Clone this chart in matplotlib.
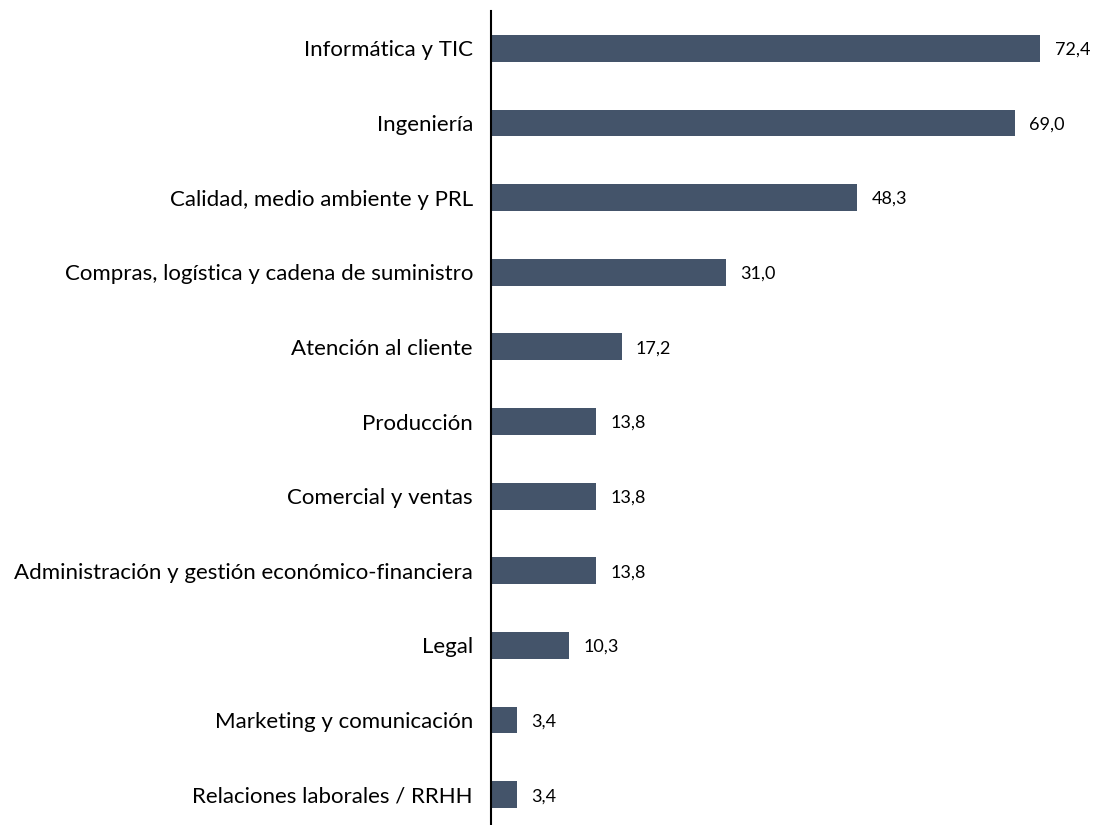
import numpy as np
import matplotlib
matplotlib.rc('font', family=['Lato', 'DejaVu Sans'])
import matplotlib.pyplot as plt

categorias = ['Informática y TIC', 'Ingeniería', 'Calidad, medio ambiente y PRL',
              'Compras, logística y cadena de suministro', 'Atención al cliente',
              'Producción', 'Comercial y ventas',
              'Administración y gestión económico-financiera', 'Legal',
              'Marketing y comunicación', 'Relaciones laborales / RRHH']
valores = [72.4, 69.0, 48.3, 31.0, 17.2, 13.8, 13.8, 13.8, 10.3, 3.4, 3.4]

if __name__ == '__main__':
    fig = plt.figure(figsize=(10.98, 8.25), dpi=100)
    ax = fig.add_axes([491/1098, -7/825, 1 - 491/1098, 1 - 4/825])
    pos = np.arange(len(categorias))
    ax.barh(pos, valores, height=0.36, color='#44546A')
    for p, v in zip(pos, valores):
        ax.text(v + 1.9, p + 0.02, f"{v:.1f}".replace('.', ','), va='center', ha='left',
                fontsize=13, color='#000000')
    ax.set_yticks(pos)
    ax.set_yticklabels(categorias, fontsize=16)
    ax.tick_params(axis='y', length=0, pad=13)
    ax.set_xticks([])
    ax.set_xlim(0, 80)
    ax.set_ylim(len(categorias) - 0.5, -0.5)
    for s in ['top', 'right', 'bottom']:
        ax.spines[s].set_visible(False)
    ax.spines['left'].set_linewidth(1.5)
    fig.savefig('out.png', dpi=100)
    plt.close(fig)
